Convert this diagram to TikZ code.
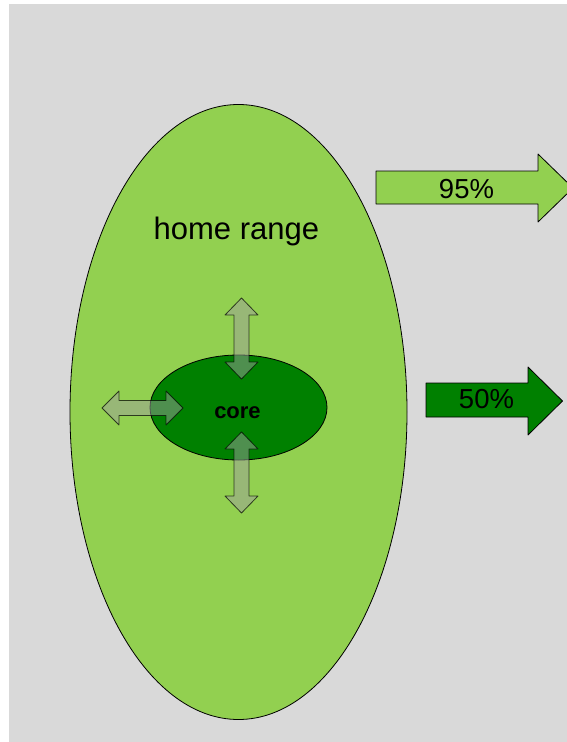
\documentclass[tikz,border=0pt]{standalone}
\usepackage{fontspec}
\setmainfont{Liberation Sans}
\usepackage{tikz}
\definecolor{lightgreen}{HTML}{92D050}
\definecolor{darkgreen}{HTML}{008000}
\definecolor{backgray}{HTML}{D9D9D9}
\begin{document}
\begin{tikzpicture}[line cap=round,line join=round,x=1pt,y=-1pt,
  moveto/.style={draw=black,draw opacity=0.7,fill=gray!75,fill opacity=0.5,line width=0.8pt},
  percent/.style={draw=black,line width=0.8pt}]
\useasboundingbox (0,0) rectangle (567,742);
\fill[backgray] (9,4) rectangle (567,742);
% home range and core
\draw[fill=lightgreen,line width=0.8pt] (238.5,412) ellipse (168.5 and 307.5);
\draw[fill=darkgreen,line width=0.8pt] (238.5,407.5) ellipse (88.5 and 52.5);
\node[anchor=base,font=\fontsize{31}{36}\selectfont] (home) at (236.4,239.3) {home range};
\node[anchor=base,font=\fontsize{22}{26}\selectfont\bfseries] (core) at (237.5,418.3) {core};
% moving in and out
\draw[moveto] (241.5,298) -- (258,315) -- (249,315) -- (249,362) -- (258,362) -- (241.5,379)
  -- (225,362) -- (234,362) -- (234,315) -- (225,315) -- cycle;
\draw[moveto] (241.5,432) -- (258,449) -- (249,449) -- (249,496) -- (258,496) -- (241.5,513)
  -- (225,496) -- (234,496) -- (234,449) -- (225,449) -- cycle;
\draw[moveto] (102,408) -- (119,391) -- (119,400.5) -- (166,400.5) -- (166,391) -- (183,408)
  -- (166,425) -- (166,415.5) -- (119,415.5) -- (119,425) -- cycle;
% isopleths
\draw[percent,fill=lightgreen] (376,171) -- (538,171) -- (538,154) -- (573,188) -- (538,222)
  -- (538,204) -- (376,204) -- cycle;
\draw[percent,fill=darkgreen] (426,383) -- (528,383) -- (528,367) -- (562.5,401) -- (528,435)
  -- (528,417) -- (426,417) -- cycle;
\node[anchor=base,font=\fontsize{27.5}{32}\selectfont] (p95) at (466.5,198.3) {95\%};
\node[anchor=base,font=\fontsize{27.5}{32}\selectfont] (p50) at (486.5,408.3) {50\%};
\end{tikzpicture}
\end{document}
